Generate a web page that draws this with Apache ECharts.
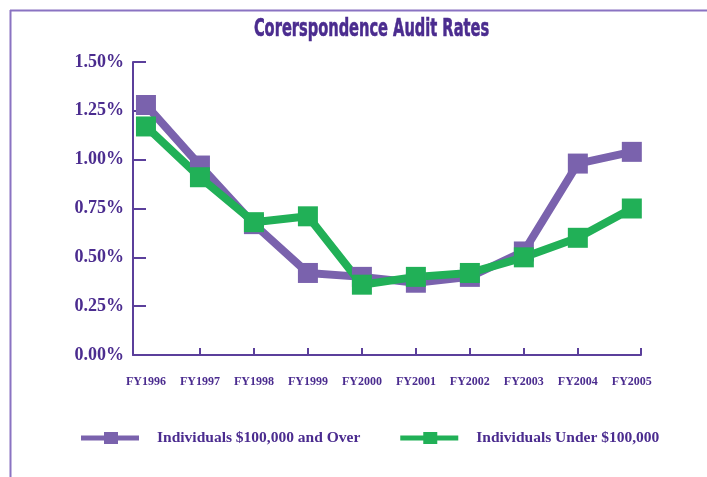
<!DOCTYPE html>
<html>
<head>
<meta charset="utf-8">
<script src="https://cdn.jsdelivr.net/npm/echarts@6/dist/echarts.min.js"></script>
<style>
  html, body { margin: 0; padding: 0; background: #fff; }
  #main { width: 707px; height: 477px; }
</style>
</head>
<body>
<div id="main"></div>
<script>
// 数据
var years = ['FY1996', 'FY1997', 'FY1998', 'FY1999', 'FY2000', 'FY2001', 'FY2002', 'FY2003', 'FY2004', 'FY2005']
var overRates = [1.28, 0.97, 0.67, 0.42, 0.40, 0.37, 0.40, 0.53, 0.98, 1.04]
var underRates = [1.17, 0.91, 0.68, 0.71, 0.36, 0.40, 0.42, 0.50, 0.60, 0.75]
var seriesNames = ['Individuals $100,000 and Over', 'Individuals Under $100,000']
var titleText = 'Corerspondence Audit Rates'

var PURPLE = '#7a62ad'
var GREEN = '#21b057'
var INK = '#4b2c8f'

var chart = echarts.init(document.getElementById('main'))

// 横轴按下标画点
var toPoints = arr => arr.map((v, i) => [i, v])

var legendIcon = 'path://M0,3.5 L23,3.5 L23,0 L37,0 L37,3.5 L58,3.5 L58,8.5 L37,8.5 L37,12 L23,12 L23,8.5 L0,8.5 Z'

var option = {
  animation: false,
  legend: {
    data: seriesNames,
    left: 76,
    top: 425,
    itemWidth: 58,
    itemHeight: 12,
    itemGap: 40,
    icon: legendIcon,
    textStyle: {
      fontFamily: 'Liberation Serif',
      fontWeight: 'bold',
      fontSize: 15.5,
      color: INK,
      padding: [0, 0, 0, 13]
    }
  },
  grid: { left: 133, right: 66, top: 62, bottom: 122 },
  xAxis: {
    type: 'value',
    min: -0.24,
    max: 9.17,
    splitLine: { show: false },
    axisLine: { lineStyle: { color: '#5b3f9b', width: 2 } },
    axisTick: {
      inside: true,
      length: 7,
      customValues: [1, 2, 3, 4, 5, 6, 7, 8, 9.17],
      lineStyle: { color: '#5b3f9b', width: 2 }
    },
    axisLabel: {
      customValues: [0, 1, 2, 3, 4, 5, 6, 7, 8, 9],
      formatter: v => years[Math.round(v)],
      margin: 21,
      fontFamily: 'Liberation Serif',
      fontWeight: 'bold',
      fontSize: 12,
      color: INK
    }
  },
  yAxis: {
    type: 'value',
    min: 0,
    max: 1.5,
    interval: 0.25,
    splitLine: { show: false },
    axisLine: { show: true, onZero: false, lineStyle: { color: '#5b3f9b', width: 2 } },
    axisTick: {
      show: true,
      inside: true,
      length: 13,
      lineStyle: { color: '#5b3f9b', width: 2 }
    },
    axisLabel: {
      formatter: v => v.toFixed(2) + '%',
      margin: 9,
      fontFamily: 'Liberation Serif',
      fontWeight: 'bold',
      fontSize: 18,
      color: INK
    }
  },
  series: [
    {
      name: seriesNames[0],
      type: 'line',
      data: toPoints(overRates),
      color: PURPLE,
      symbol: 'rect',
      symbolSize: 20,
      lineStyle: { width: 8, color: PURPLE },
      itemStyle: { color: PURPLE }
    },
    {
      name: seriesNames[1],
      type: 'line',
      data: toPoints(underRates),
      color: GREEN,
      symbol: 'rect',
      symbolSize: 20,
      lineStyle: { width: 8, color: GREEN },
      itemStyle: { color: GREEN }
    }
  ],
  graphic: [
    // 外框
    { type: 'line', shape: { x1: 10, y1: 10.5, x2: 707, y2: 10.5 }, style: { stroke: '#8a73c2', lineWidth: 2 } },
    { type: 'line', shape: { x1: 10.5, y1: 10, x2: 10.5, y2: 477 }, style: { stroke: '#8a73c2', lineWidth: 2 } },
    // 标题：窄体字，横向压缩
    {
      type: 'text',
      x: 371.5,
      y: 17,
      scaleX: 0.65,
      style: {
        text: titleText,
        x: 0,
        y: 0,
        textAlign: 'center',
        textVerticalAlign: 'top',
        fontFamily: 'DejaVu Sans Condensed',
        fontWeight: 'bold',
        fontSize: 25,
        fill: INK,
        stroke: INK,
        lineWidth: 0.6
      }
    }
  ]
}

chart.setOption(option)
</script>
</body>
</html>
